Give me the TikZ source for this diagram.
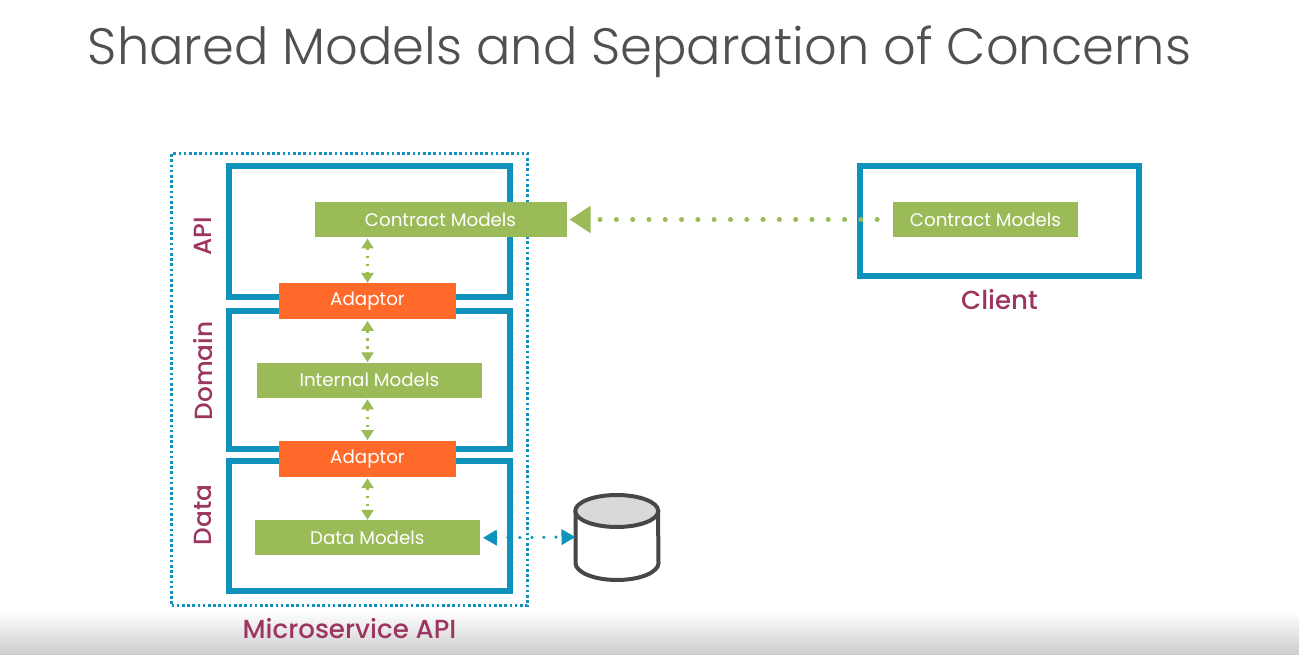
\documentclass[tikz,border=0pt]{standalone}
\usepackage{fontspec}
\setmainfont{Poppins}
\newfontfamily\titlefont{Poppins Light}
\newfontfamily\labelfont{Poppins Medium}
\usetikzlibrary{arrows.meta}
\newdimen\px
\px=0.75pt
\definecolor{frameblue}{HTML}{0F93BC}
\definecolor{modelgreen}{HTML}{9BBB59}
\definecolor{adaptorred}{HTML}{FF6A2B}
\definecolor{labelred}{HTML}{9C3560}
\definecolor{titlegray}{HTML}{505050}
\tikzset{
    layerbox/.style={draw=frameblue,line width=6\px,outer sep=0pt,inner sep=0pt},
    modelbox/.style={fill=modelgreen,text=white,outer sep=0pt,inner sep=0pt,minimum height=35\px,font=\fontsize{13.7}{16}\selectfont},
    adaptorbox/.style={modelbox,fill=adaptorred,minimum width=177\px,minimum height=36\px},
    sidelabel/.style={text=labelred,font=\labelfont\fontsize{18.6}{22}\selectfont,rotate=90},
    underlabel/.style={text=labelred,font=\labelfont\fontsize{19.6}{22}\selectfont},
    greenlink/.style={modelgreen,line width=5\px,line cap=round,dash pattern=on 0pt off 16.3\px,dash phase=5.5\px},
    bluelink/.style={frameblue,line width=3.5\px,line cap=round,dash pattern=on 0pt off 12\px},
    stublink/.style={modelgreen,line width=3\px,dash pattern=on 2.5\px off 5.5\px},
}
\begin{document}
\begin{tikzpicture}[x=0.75pt,y=-0.75pt]
\useasboundingbox (0,0) rectangle (1299,655);
\fill[white] (0,0) rectangle (1299,655);
% Grey band at the bottom
\shade[top color=white,bottom color=black!20,draw=none] (0,611) rectangle (1299,655);

% Title
\node[text=titlegray,font=\titlefont\fontsize{38.3}{48}\selectfont] (title) at (639.5,52) {Shared Models and Separation of Concerns};

% Dotted service frame
\node[draw=frameblue,line width=3\px,dash pattern=on 2.6\px off 2.6\px,minimum width=356\px,minimum height=452\px,inner sep=0pt] (service) at (349.5,379.5) {};

% Layers
\node[layerbox,minimum width=281\px,minimum height=131\px] (apilayer) at (369.5,231.5) {};
\node[layerbox,minimum width=281\px,minimum height=138.5\px] (domainlayer) at (369.5,379.8) {};
\node[layerbox,minimum width=281\px,minimum height=130\px] (datalayer) at (369.5,526) {};
\node[layerbox,minimum width=279\px,minimum height=110\px] (clientlayer) at (999.5,221) {};

% Models
\node[modelbox,minimum width=252\px] (contractm) at (440.5,219.5) {Contract Models};
\node[modelbox,minimum width=225\px] (internalm) at (369.3,380.3) {Internal Models};
\node[modelbox,minimum width=225\px] (datam) at (367.3,537.8) {Data Models};
\node[modelbox,minimum width=185\px] (clientm) at (985.5,219.5) {Contract Models};

% Adaptors
\node[adaptorbox] (adaptora) at (367.5,301.3) {Adaptor};
\node[adaptorbox] (adaptorb) at (367.5,458.7) {Adaptor};

% Database
\coordinate (dbwest) at (575.5,537);
\draw[draw=black!72,line width=4\px,fill=white] (575.5,511) -- (575.5,563) arc[start angle=180,end angle=0,x radius=41.5,y radius=17] -- (658,511);
\draw[draw=black!72,line width=4\px,fill=black!15] (616.75,511) ellipse[x radius=41.5,y radius=16];

% Side labels
\node[sidelabel] (apilabel) at (203,236) {API};
\node[sidelabel] (domainlabel) at (203,371) {Domain};
\node[sidelabel] (datalabel) at (203,515) {Data};
\node[underlabel] (servicelabel) at (349.5,629) {Microservice API};
\node[underlabel] (clientlabel) at (999.5,300) {Client};

% Links
\draw[greenlink,{Triangle[length=15.75pt,width=19.5pt]}-,shorten <=3\px,shorten >=12\px] (contractm.east) -- (clientm.west);
\foreach \a/\b in {contractm/adaptora,adaptora/internalm,internalm/adaptorb,adaptorb/datam} {
    \draw[stublink,{Triangle[length=7.5pt,width=9pt]}-{Triangle[length=7.5pt,width=9pt]},shorten <=1.5\px,shorten >=0.5\px] (adaptora.north |- \a.south) -- (adaptora.north |- \b.north);
}
\draw[bluelink,{Triangle[length=10.5pt,width=11.25pt]}-{Triangle[length=10.5pt,width=11.25pt]},shorten <=3\px,shorten >=0\px] (datam.east) -- (dbwest);
\end{tikzpicture}
\end{document}
